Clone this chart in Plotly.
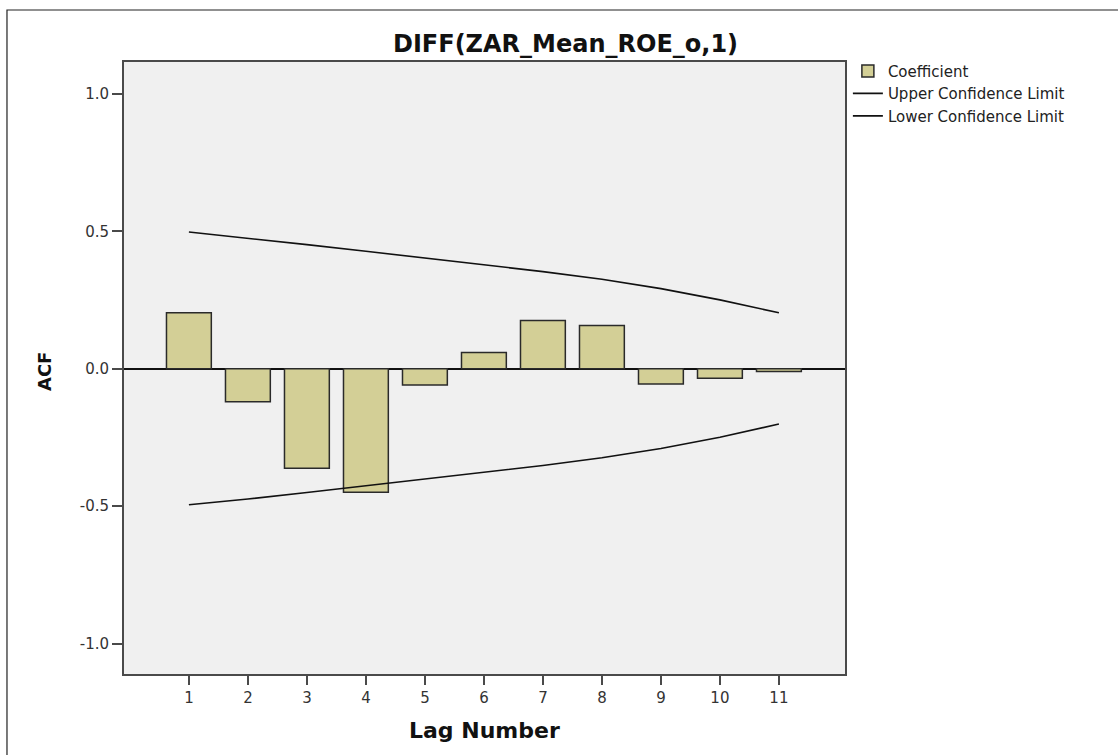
import plotly.graph_objects as go

lags = [1, 2, 3, 4, 5, 6, 7, 8, 9, 10, 11]
acf = [0.204, -0.120, -0.362, -0.449, -0.059, 0.059, 0.176, 0.158, -0.055, -0.034, -0.010]
upper = [0.498, 0.476, 0.452, 0.428, 0.403, 0.378, 0.354, 0.326, 0.292, 0.251, 0.204]
lower = [-0.495, -0.474, -0.450, -0.426, -0.401, -0.376, -0.352, -0.324, -0.290, -0.249, -0.201]
y_ticks = [-1.0, -0.5, 0.0, 0.5, 1.0]

FONT = "DejaVu Sans, Verdana, sans-serif"

fig = go.Figure()
fig.add_trace(go.Bar(
    x=lags, y=acf, name="Coefficient", width=0.76,
    marker=dict(color="#d3cf96", line=dict(color="#2a2a2a", width=1.5)),
))
fig.add_trace(go.Scatter(
    x=lags, y=upper, name="Upper Confidence Limit", mode="lines",
    line=dict(color="#111111", width=1.6),
))
fig.add_trace(go.Scatter(
    x=lags, y=lower, name="Lower Confidence Limit", mode="lines",
    line=dict(color="#111111", width=1.6),
))

fig.update_layout(
    width=1118, height=755,
    margin=dict(l=124, r=273, t=62, b=81),
    paper_bgcolor="white", plot_bgcolor="#f0f0f0",
    font=dict(family=FONT, size=15, color="#333333"),
    showlegend=True,
    legend=dict(x=1.004, y=1.012, xanchor="left", yanchor="top",
                font=dict(family=FONT, size=15, color="#222222"),
                bgcolor="rgba(0,0,0,0)", itemwidth=30, tracegroupgap=0),
)
fig.update_xaxes(
    range=[-0.1, 12.12], tickmode="array", tickvals=lags,
    ticktext=[str(v) for v in lags],
    showgrid=False, zeroline=False,
    showline=True, linecolor="#4a4a4a", linewidth=2, mirror=True,
    ticks="outside", ticklen=9, tickwidth=1.5, tickcolor="#4a4a4a",
    tickfont=dict(family=FONT, size=15, color="#333333"),
)
fig.update_yaxes(
    range=[-1.111, 1.117], tickmode="array", tickvals=y_ticks,
    ticktext=[f"{v:.1f}" for v in y_ticks],
    showgrid=False, zeroline=True, zerolinecolor="#111111", zerolinewidth=1.6,
    showline=True, linecolor="#4a4a4a", linewidth=2, mirror=True,
    ticks="outside", ticklen=10, tickwidth=1.5, tickcolor="#4a4a4a",
    tickfont=dict(family=FONT, size=15, color="#333333"),
)

fig.add_annotation(text="<b>DIFF(ZAR_Mean_ROE_o,1)</b>", xref="paper", yref="paper",
                   x=0.6117, y=1.0288, xanchor="center", yanchor="middle", showarrow=False,
                   font=dict(family=FONT, size=24, color="#111111"))
fig.add_annotation(text="<b>Lag Number</b>", xref="paper", yref="paper",
                   x=0.5, y=-0.0922, xanchor="center", yanchor="middle", showarrow=False,
                   font=dict(family=FONT, size=22, color="#111111"))
fig.add_annotation(text="<b>ACF</b>", xref="paper", yref="paper",
                   x=-0.111, y=0.495, xanchor="center", yanchor="middle", showarrow=False,
                   textangle=-90, font=dict(family=FONT, size=18, color="#111111"))

# outer frame
fig.add_shape(type="rect", xref="paper", yref="paper",
              x0=-0.1623, x1=1.40, y0=-0.16, y1=1.085,
              line=dict(color="#222222", width=1.2), fillcolor="rgba(0,0,0,0)", layer="below")

fig.write_html("out.html")
